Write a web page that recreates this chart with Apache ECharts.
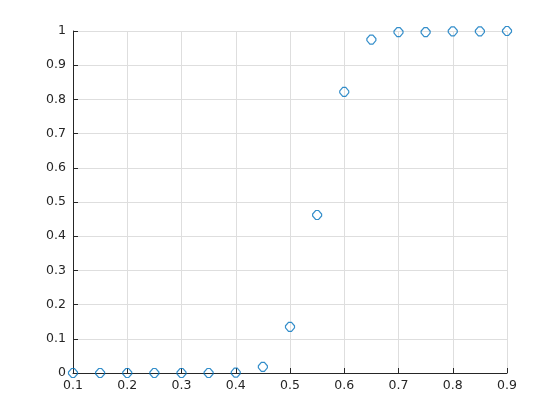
<!DOCTYPE html>
<html>
<head>
<meta charset="utf-8">
<script src="https://cdn.jsdelivr.net/npm/echarts@6/dist/echarts.min.js"></script>
<style>html,body{margin:0;padding:0;background:#fff}#c{width:560px;height:420px}</style>
</head>
<body>
<div id="c"></div>
<script>
const xValues = [0.1, 0.15, 0.2, 0.25, 0.3, 0.35, 0.4, 0.45, 0.5, 0.55, 0.6, 0.65, 0.7, 0.75, 0.8, 0.85, 0.9];
const yValues = [0, 0, 0, 0, 0, 0, 0.001, 0.018, 0.135, 0.462, 0.822, 0.975, 0.997, 0.997, 0.999, 0.999, 1.0];

const chart = echarts.init(document.getElementById('c'));
const labelStyle = {color: '#262626', fontFamily: 'DejaVu Sans', fontSize: 12.5};
chart.setOption({
  animation: false,
  grid: {left: 73, right: 53, top: 31, bottom: 47, containLabel: false},
  xAxis: {
    type: 'value', min: 0.1, max: 0.9, interval: 0.1,
    axisLine: {show: true, onZero: false, lineStyle: {color: '#262626', width: 1}},
    axisTick: {show: true, inside: true, length: 5, lineStyle: {color: '#262626'}},
    axisLabel: Object.assign({margin: 6, formatter: v => (Math.round(v*10)/10).toString()}, labelStyle),
    splitLine: {show: true, lineStyle: {color: '#dedede', width: 1}}
  },
  yAxis: {
    type: 'value', min: 0, max: 1, interval: 0.1,
    axisLine: {show: true, onZero: false, lineStyle: {color: '#262626', width: 1}},
    axisTick: {show: true, inside: true, length: 5, lineStyle: {color: '#262626'}},
    axisLabel: Object.assign({margin: 7, formatter: v => (Math.round(v*10)/10).toString()}, labelStyle),
    splitLine: {show: true, lineStyle: {color: '#dedede', width: 1}}
  },
  series: [{
    type: 'scatter',
    data: xValues.map((x, i) => [x, yValues[i]]),
    symbol: 'path://M3,0 L6,0 L9,3.5 L9,5.5 L6,9 L3,9 L0,5.5 L0,3.5 Z',
    symbolSize: [9, 9],
    clip: false,
    itemStyle: {color: 'rgba(255,255,255,0)', borderColor: '#0072BD', borderWidth: 1.2}
  }]
});
</script>
</body>
</html>
